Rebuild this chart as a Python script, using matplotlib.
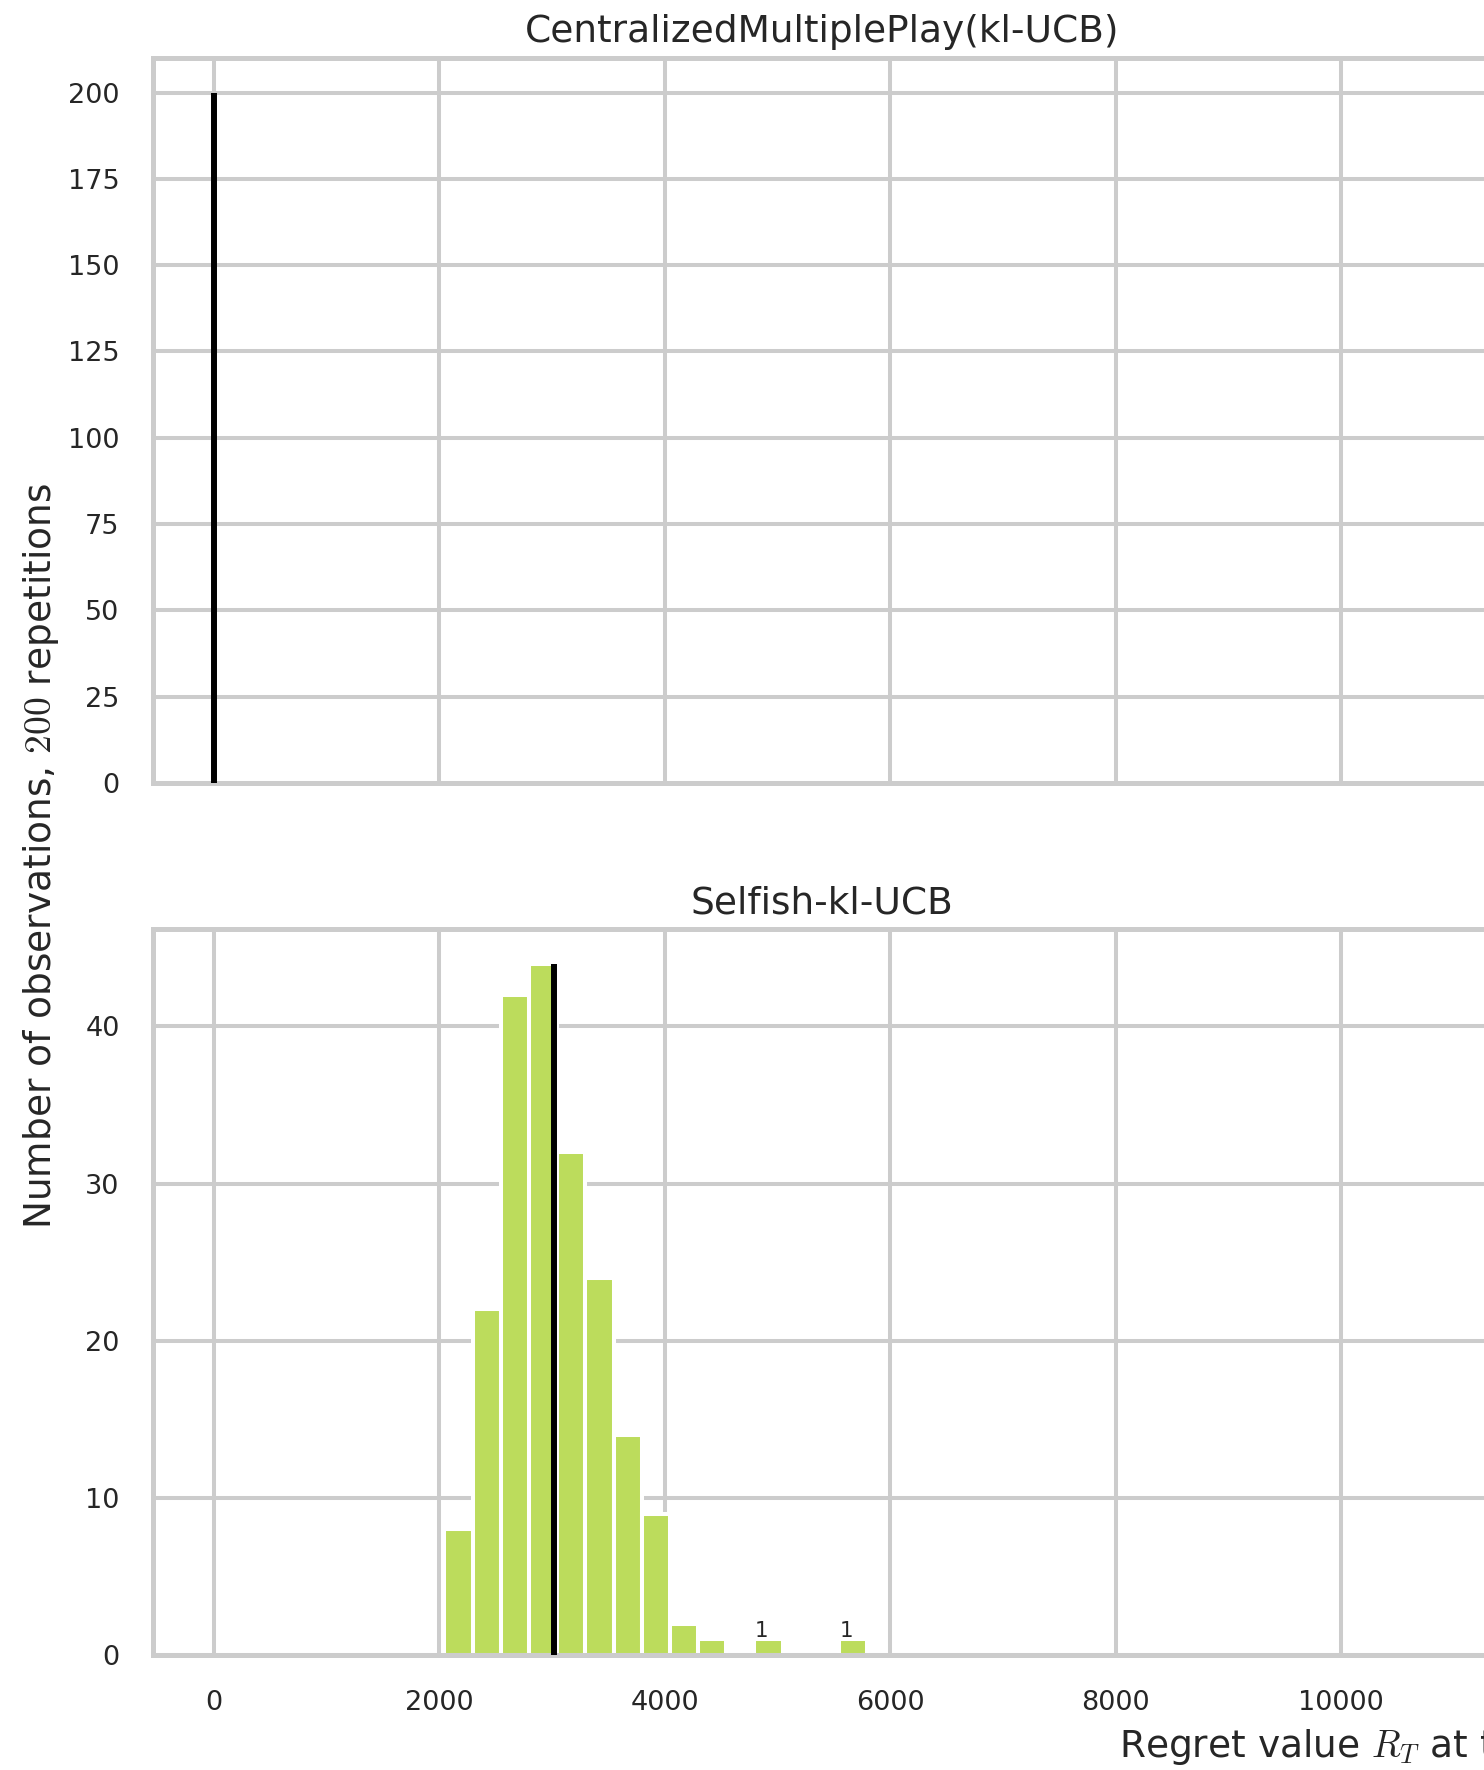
import numpy as np
import matplotlib
matplotlib.use("Agg")
import matplotlib.pyplot as plt

# --- data ---
titles = ["CentralizedMultiplePlay(kl-UCB)", "Selfish-kl-UCB"]

# top: every run ends with (almost) the same regret
top_bin_left = [-10]
top_bin_width = 20
top_counts = [200]
top_mean = 0

# bottom: 15 bins of width ~250
bot_bin_start = 2046
bot_bin_width = 250
bot_counts = [8, 22, 42, 44, 32, 24, 14, 9, 2, 1, 0, 1, 0, 0, 1]
bot_mean = 3020
labelled_bins = [11, 14]  # bins that carry a small count label

top_yticks = [0, 25, 50, 75, 100, 125, 150, 175, 200]
bot_yticks = [0, 10, 20, 30, 40]
xticks = [0, 2000, 4000, 6000, 8000, 10000]

bar_color = "#bcdc5c"
grid_color = "#cccccc"
text_color = "#262626"

plt.rcParams["mathtext.fontset"] = "cm"
plt.rcParams["font.family"] = "DejaVu Sans"
plt.rcParams["text.color"] = text_color

W, H = 1484, 1770
fig = plt.figure(figsize=(W / 100, H / 100), dpi=100)


def px_axes(left, top, right, bottom):
    return fig.add_axes([left / W, 1 - bottom / H, (right - left) / W, (bottom - top) / H])


ax_top = px_axes(153, 58, 1491, 783)
ax_bot = px_axes(153, 929, 1491, 1655)


def style(ax, yticks, ymax):
    ax.set_axisbelow(True)
    ax.set_xticks(xticks)
    ax.set_yticks(yticks)
    ax.set_xlim(-540, 11330)
    ax.set_ylim(0, ymax)
    ax.grid(True, color=grid_color, linewidth=2.9)
    for sp in ax.spines.values():
        sp.set_color(grid_color)
        sp.set_linewidth(3.6)
    ax.tick_params(length=0, pad=24, labelsize=19.5, colors=text_color)
    ax.tick_params(axis="x", pad=25.5)


style(ax_top, top_yticks, 210)
style(ax_bot, bot_yticks, 46.2)
ax_top.tick_params(labelbottom=False)

# top histogram + mean line
ax_top.bar(top_bin_left, top_counts, width=top_bin_width, align="edge",
           color=bar_color, edgecolor="white", linewidth=0)
ax_top.vlines(top_mean, 0, max(top_counts), color="black", linewidth=4.3, zorder=3)

# bottom histogram
lefts = bot_bin_start + bot_bin_width * np.arange(len(bot_counts))
ax_bot.bar(lefts, bot_counts, width=bot_bin_width, align="edge",
           color=bar_color, edgecolor="white", linewidth=2.9)
ax_bot.vlines(bot_mean, 0, max(bot_counts), color="black", linewidth=4.3, zorder=3)
for i in labelled_bins:
    ax_bot.annotate(str(bot_counts[i]), (lefts[i] + bot_bin_width / 2, bot_counts[i]),
                    xytext=(-5, 1.5), textcoords="offset points",
                    ha="center", va="baseline", fontsize=15.5, color=text_color)

ax_top.set_title(titles[0], fontsize=27, pad=11.5, color=text_color)
ax_bot.set_title(titles[1], fontsize=27, pad=11.5, color=text_color)

fig.text(0.0275, 1 - 856 / H, "Number of observations, $200$ repetitions",
         rotation=90, ha="center", va="center", fontsize=27, color=text_color)
fig.text(1119 / W, 1 - 1757 / H,
         "Regret value $R_T$ at the end of simulation, for $T = 10000$",
         ha="left", va="baseline", fontsize=27, color=text_color)

fig.savefig("out.png", dpi=100)
